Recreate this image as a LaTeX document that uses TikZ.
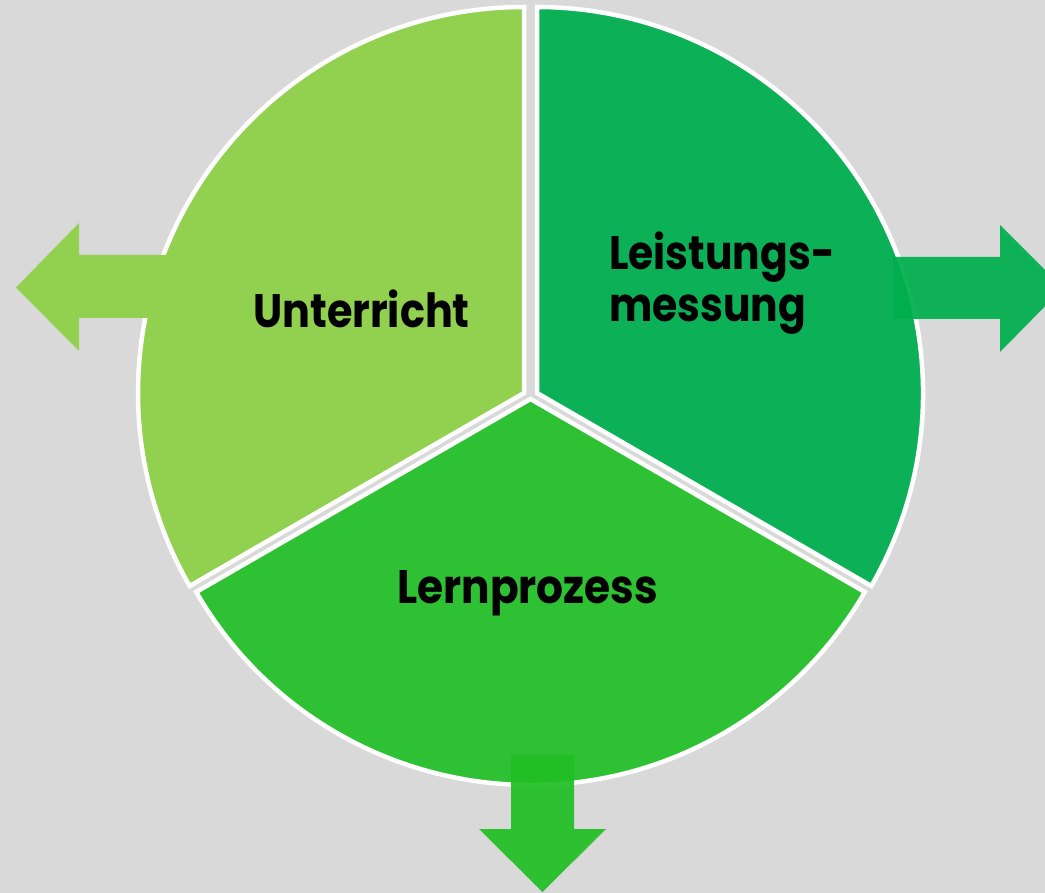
\documentclass[tikz,border=0pt]{standalone}
\usepackage{fontspec}
\setmainfont{Poppins}
\definecolor{bg}{HTML}{D9D9D9}
\definecolor{cleft}{HTML}{92D050}
\definecolor{cright}{HTML}{0CB157}
\definecolor{cbottom}{HTML}{2EC133}
\definecolor{aright}{HTML}{00AE4D}
\definecolor{abottom}{HTML}{21BF25}
\begin{document}
\begin{tikzpicture}[x=1pt,y=-1pt,
  sector/.style={draw=white,line width=4.5pt,line join=miter},
  label/.style={inner sep=0pt,font=\bfseries\fontsize{47}{52}\selectfont,text=black,anchor=base west}]
\fill[bg] (0,0) rectangle (1045,893);
\useasboundingbox (0,0) rectangle (1045,893);
% sectors
\coordinate (cl) at (524,393);
\coordinate (cr) at (537,393);
\coordinate (cb) at (530.5,399);
\path[sector,fill=cleft] (cl) -- ++(-90:386) arc[start angle=-90,end angle=-210,radius=386] -- cycle;
\path[sector,fill=cright] (cr) -- ++(30:386) arc[start angle=30,end angle=-90,radius=386] -- cycle;
\path[sector,fill=cbottom] (cb) -- ++(150:386) arc[start angle=150,end angle=30,radius=386] -- cycle;
% arrows
\fill[cleft] (16,287.5) -- (79,223) -- (79,255) -- (170,255) -- (170,318) -- (79,318) -- (79,351) -- cycle;
\fill[aright,opacity=0.93] (1063,288) -- (1000,225) -- (1000,257) -- (893,257) -- (893,319) -- (1000,319) -- (1000,352) -- cycle;
\fill[abottom,opacity=0.93] (542.5,892) -- (479,829) -- (511,829) -- (511,755) -- (574,755) -- (574,829) -- (606,829) -- cycle;
% labels
\node[label,xscale=0.88] (u) at (253,328) {Unterricht};
\node[label,xscale=0.87] (l1) at (609,270) {Leistungs-};
\node[label,xscale=0.87] (l2) at (609,322) {messung};
\node[label,xscale=0.90] (lp) at (397,603) {Lernprozess};
\end{tikzpicture}
\end{document}
